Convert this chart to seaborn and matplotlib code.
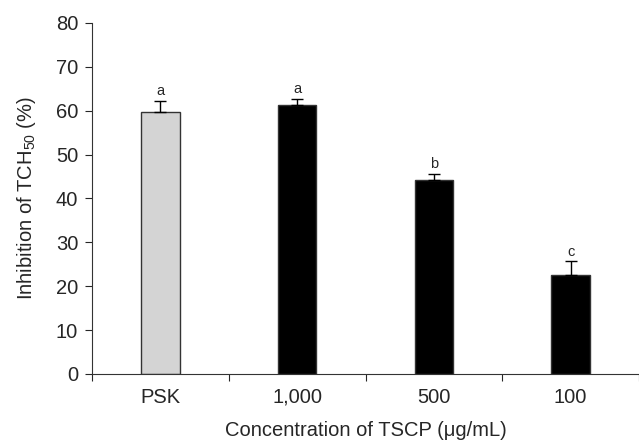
import matplotlib
matplotlib.use("Agg")
import matplotlib.pyplot as plt
import seaborn as sns
import pandas as pd

# data
categories = ["PSK", "1,000", "500", "100"]
values = [59.8, 61.3, 44.1, 22.6]
errors = [2.5, 1.4, 1.5, 3.1]
letters = ["a", "a", "b", "c"]
bar_colors = ["#d4d4d4", "#000000", "#000000", "#000000"]

sns.set_style("ticks")
plt.rcParams["font.family"] = ["Liberation Sans", "DejaVu Sans"]
plt.rcParams["mathtext.default"] = "regular"

df = pd.DataFrame({"conc": categories, "inhib": values})

fig = plt.figure(figsize=(6.39, 4.41), dpi=100)
ax = fig.add_axes([0.144, 0.152, 0.856, 0.796])

sns.barplot(data=df, x="conc", y="inhib", hue="conc", palette=bar_colors,
            order=categories, width=0.28, edgecolor="#333333", linewidth=1.0,
            legend=False, errorbar=None, ax=ax)

# upward-only error bars
xs = list(range(len(categories)))
ax.errorbar(xs, values, yerr=[[0] * len(errors), errors], fmt="none",
            ecolor="black", elinewidth=1.0, capsize=4, capthick=1.0)

for x, v, e, l in zip(xs, values, errors, letters):
    ax.text(x, v + e + 0.6, l, ha="center", va="bottom", fontsize=10.5)

ax.set_ylim(0, 80)
ax.set_yticks(range(0, 81, 10))
ax.set_xlim(-0.5, 3.45)
ax.set_xticks([-0.5, 0.5, 1.5, 2.5, 3.5], minor=False)
ax.set_xticklabels([])
ax.set_xticks(xs, minor=True)
ax.set_xticklabels(categories, minor=True)
ax.tick_params(axis="x", which="minor", length=0, pad=10, labelsize=14.5)
ax.tick_params(axis="x", which="major", length=5, direction="out", width=0.8)
ax.tick_params(axis="y", length=5, width=0.8, labelsize=14.5, pad=5)

ax.set_xlabel("Concentration of TSCP (μg/mL)", fontsize=14.5, labelpad=10)
ax.set_ylabel("Inhibition of TCH$_{50}$ (%)", fontsize=14.5, labelpad=13)

for side in ["top", "right"]:
    ax.spines[side].set_visible(False)
for side in ["left", "bottom"]:
    ax.spines[side].set_linewidth(0.8)
    ax.spines[side].set_color("#333333")

fig.savefig("out.png", dpi=100)
